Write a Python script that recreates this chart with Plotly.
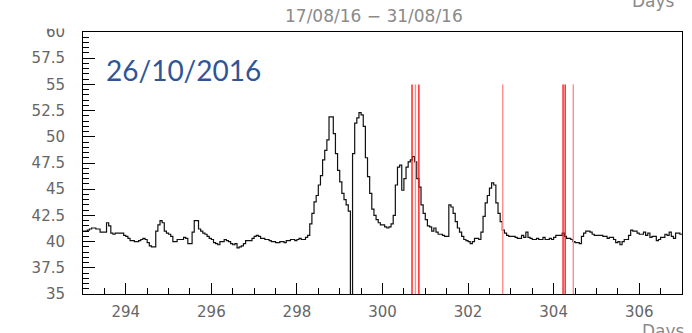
import plotly.graph_objects as go

# Histogram binning: 0.05-day bins from day 293 to day 307
BIN_START = 293.0
BIN_WIDTH = 0.05

# Bin contents, one list per day (20 bins each)
day_293 = [41.0, 41.0, 41.1, 41.2, 41.3, 41.3, 41.2, 41.2, 40.9, 40.9,
           40.9, 41.8, 41.5, 40.8, 40.7, 40.8, 40.8, 40.8, 40.8, 40.6]
day_294 = [40.5, 40.3, 40.1, 40.1, 40.0, 40.0, 40.1, 40.2, 40.3, 40.2,
           39.9, 39.6, 39.5, 39.5, 41.0, 41.6, 42.0, 41.8, 41.0, 40.8]
day_295 = [40.7, 40.5, 40.0, 40.0, 40.2, 40.2, 40.2, 40.4, 40.3, 39.8,
           39.8, 40.9, 42.0, 42.0, 41.2, 41.0, 40.8, 40.7, 40.5, 40.3]
day_296 = [40.2, 39.9, 39.8, 39.7, 40.0, 40.0, 40.2, 40.1, 40.0, 39.8,
           39.7, 39.8, 39.4, 39.5, 39.6, 39.8, 40.1, 40.1, 40.1, 40.3]
day_297 = [40.5, 40.6, 40.5, 40.3, 40.3, 40.2, 40.2, 40.1, 40.0, 40.0,
           39.9, 39.9, 40.0, 40.0, 39.9, 40.1, 40.1, 40.2, 40.2, 40.1]
day_298 = [40.2, 40.3, 40.2, 40.2, 40.4, 40.6, 41.7, 42.7, 43.8, 44.4,
           45.4, 46.3, 47.8, 48.7, 49.7, 51.9, 51.9, 50.3, 48.4, 46.8]
day_299 = [45.7, 44.6, 44.0, 43.5, 42.9, 0.0, 48.4, 51.3, 51.8, 52.3,
           52.1, 51.0, 48.0, 46.2, 44.6, 43.1, 42.5, 42.1, 41.8, 41.6]
day_300 = [41.6, 41.4, 41.3, 41.4, 41.7, 42.5, 45.4, 47.1, 47.3, 44.9,
           46.0, 47.1, 47.6, 47.8, 48.1, 47.6, 46.0, 45.2, 43.5, 42.7]
day_301 = [42.1, 41.5, 41.4, 41.0, 41.3, 40.9, 40.7, 40.7, 40.6, 40.5,
           40.5, 43.5, 43.3, 42.7, 41.9, 41.3, 40.9, 40.5, 40.2, 40.1]
day_302 = [40.0, 39.8, 40.0, 40.3, 40.3, 40.2, 40.9, 42.4, 43.7, 44.4,
           45.1, 45.6, 45.4, 43.7, 42.7, 41.9, 41.1, 40.8, 40.6, 40.5]
day_303 = [40.5, 40.5, 40.4, 40.3, 40.3, 40.6, 40.4, 40.9, 40.4, 40.3,
           40.2, 40.2, 40.3, 40.2, 40.2, 40.4, 40.2, 40.2, 40.3, 40.2]
day_304 = [40.4, 40.6, 40.6, 40.6, 40.8, 40.5, 40.3, 40.3, 40.2, 40.0,
           39.9, 39.9, 39.8, 40.5, 40.8, 41.0, 41.0, 40.9, 40.7, 40.6]
day_305 = [40.6, 40.6, 40.6, 40.5, 40.5, 40.3, 40.4, 40.4, 40.2, 39.9,
           40.0, 39.7, 40.0, 40.2, 40.2, 40.6, 41.1, 41.0, 41.0, 40.8]
day_306 = [40.7, 40.7, 40.9, 40.6, 40.8, 40.4, 40.5, 40.5, 40.1, 40.2,
           40.4, 40.4, 40.7, 40.6, 40.9, 40.5, 40.3, 40.8, 40.8, 40.7]

# Event markers (day positions) and their colours
event_days = [300.69, 300.77, 300.85, 302.81, 304.22, 304.27, 304.46]
event_colors = ["#ff1a1a", "#ff8c8c", "#ff1a1a", "#ff8c8c",
                "#ff1a1a", "#ff1a1a", "#ff8c8c"]
event_low, event_high = 35.0, 55.0

x_range = [293, 307]
y_range = [35, 60]
y_ticks = [35, 37.5, 40, 42.5, 45, 47.5, 50, 52.5, 55, 57.5, 60]
y_labels = ["35", "37.5", "40", "42.5", "45", "47.5", "50", "52.5", "55", "57.5", "60"]
x_ticks = [294, 296, 298, 300, 302, 304, 306]

title_text = "17/08/16 \u2212 31/08/16"
date_text = "26/10/2016"
axis_title = "Days"

values = (day_293 + day_294 + day_295 + day_296 + day_297 + day_298 + day_299 +
          day_300 + day_301 + day_302 + day_303 + day_304 + day_305 + day_306)
edges = [BIN_START + i * BIN_WIDTH for i in range(len(values) + 1)]
# step outline: repeat the last value at the closing edge
step_y = values + [values[-1]]

fig = go.Figure()

fig.add_trace(go.Scatter(
    x=edges, y=step_y, mode="lines", line_shape="hv",
    line=dict(color="#111111", width=1.2), hoverinfo="skip", showlegend=False))

for d, c in zip(event_days, event_colors):
    fig.add_trace(go.Scatter(
        x=[d, d], y=[event_low, event_high], mode="lines",
        line=dict(color=c, width=1.4), hoverinfo="skip", showlegend=False))

tick_font = dict(family="DejaVu Sans", size=15, color="#666666")

fig.update_xaxes(
    range=x_range, showgrid=False, zeroline=False,
    showline=True, linecolor="#000000", linewidth=1, mirror=True,
    tickvals=x_ticks, ticks="inside", ticklen=11, tickcolor="#000000", tickwidth=1,
    minor=dict(dtick=0.5, tick0=293, ticks="inside", ticklen=6,
               tickcolor="#000000", tickwidth=1, showgrid=False),
    tickfont=tick_font, ticklabelstandoff=4)

fig.update_yaxes(
    range=y_range, showgrid=False, zeroline=False,
    showline=True, linecolor="#000000", linewidth=1, mirror=True,
    tickvals=y_ticks, ticktext=y_labels, ticks="inside", ticklen=12,
    tickcolor="#000000", tickwidth=1,
    minor=dict(dtick=0.5, tick0=35, ticks="inside", ticklen=6,
               tickcolor="#000000", tickwidth=1, showgrid=False),
    tickfont=tick_font, ticklabelstandoff=14)

# plot frame: 83..682 px horizontally, 32..294 px vertically
plot_h = 262.0

fig.add_annotation(
    text=title_text, xref="paper", yref="paper",
    x=(374 - 83) / 599.0, y=1 + (32 - 16) / plot_h,
    xanchor="center", yanchor="middle", showarrow=False,
    font=dict(family="DejaVu Sans", size=17, color="#8a8a8a"))

fig.add_annotation(
    text=axis_title, xref="paper", yref="paper",
    x=(653 - 83) / 599.0, y=1 + (32 - 1) / plot_h,
    xanchor="center", yanchor="middle", showarrow=False,
    font=dict(family="DejaVu Sans", size=17, color="#8a8a8a"))

fig.add_annotation(
    text=axis_title, xref="paper", yref="paper",
    x=(663 - 83) / 599.0, y=-(331 - 294) / plot_h,
    xanchor="center", yanchor="middle", showarrow=False,
    font=dict(family="DejaVu Sans", size=17, color="#8a8a8a"))

fig.add_annotation(
    text=date_text, xref="paper", yref="paper",
    x=(104 - 83) / 599.0, y=1 - (70 - 32) / plot_h,
    xanchor="left", yanchor="middle", showarrow=False,
    font=dict(family="Lato", size=28, color="#2f5597"))

# white band masking the upper part of the topmost y label
fig.add_shape(
    type="rect", xref="paper", yref="paper", layer="above",
    x0=-0.14, x1=-0.01, y0=1 + (32 - 28.5) / plot_h, y1=1.2,
    fillcolor="#ffffff", line=dict(width=0))

fig.update_layout(
    width=692, height=333,
    margin=dict(l=83, r=10, t=32, b=39),
    paper_bgcolor="#ffffff", plot_bgcolor="#ffffff",
    showlegend=False)

fig.write_html("out.html", config={"displayModeBar": False})
